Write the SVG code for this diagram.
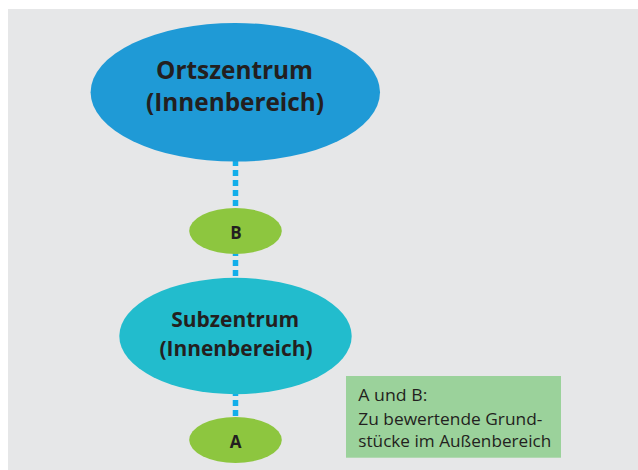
<svg xmlns="http://www.w3.org/2000/svg" width="638" height="470" viewBox="0 0 638 470">
<style>
.t{font-family:"Open Sans","Liberation Sans",sans-serif;fill:#231f20}
.b{font-weight:700;text-anchor:middle}
.r{font-weight:400}
</style>
<rect x="0" y="0" width="638" height="470" fill="#ffffff"/>
<rect x="8" y="9" width="630" height="461" fill="#e6e7e8"/>
<g id="connectors">
<line x1="235.5" y1="160" x2="235.5" y2="420" stroke="#12aeea" stroke-width="5.5" stroke-dasharray="6 4"/>
</g>
<g id="ortszentrum">
<ellipse cx="235.3" cy="92.3" rx="144.7" ry="69.3" fill="#1f9ad6"/>
<text class="t b" x="234.5" y="79.3" font-size="25.5" textLength="157" lengthAdjust="spacingAndGlyphs">Ortszentrum</text>
<text class="t b" x="235" y="111" font-size="25.5" textLength="178" lengthAdjust="spacingAndGlyphs">(Innenbereich)</text>
</g>
<g id="B">
<ellipse cx="235.5" cy="231" rx="46.3" ry="23" fill="#8dc63f"/>
<text class="t b" x="236" y="238.5" font-size="17">B</text>
</g>
<g id="subzentrum">
<ellipse cx="235.5" cy="336" rx="116.2" ry="58.2" fill="#22bccd"/>
<text class="t b" x="235.2" y="326.7" font-size="22" textLength="128" lengthAdjust="spacingAndGlyphs">Subzentrum</text>
<text class="t b" x="236" y="356" font-size="22" textLength="153" lengthAdjust="spacingAndGlyphs">(Innenbereich)</text>
</g>
<g id="A">
<ellipse cx="235.5" cy="440" rx="46.3" ry="23" fill="#8dc63f"/>
<text class="t b" x="235.5" y="448.3" font-size="17">A</text>
</g>
<g id="legend">
<rect x="346" y="376" width="215" height="81.7" fill="#9bd29b"/>
<text class="t r" x="358.3" y="400.7" font-size="16.5" textLength="69" lengthAdjust="spacingAndGlyphs">A und B:</text>
<text class="t r" x="358.3" y="424.5" font-size="16.5" textLength="184" lengthAdjust="spacingAndGlyphs">Zu bewertende Grund-</text>
<text class="t r" x="358.3" y="447.3" font-size="16.5" textLength="193" lengthAdjust="spacingAndGlyphs">stücke im Außenbereich</text>
</g>
</svg>
